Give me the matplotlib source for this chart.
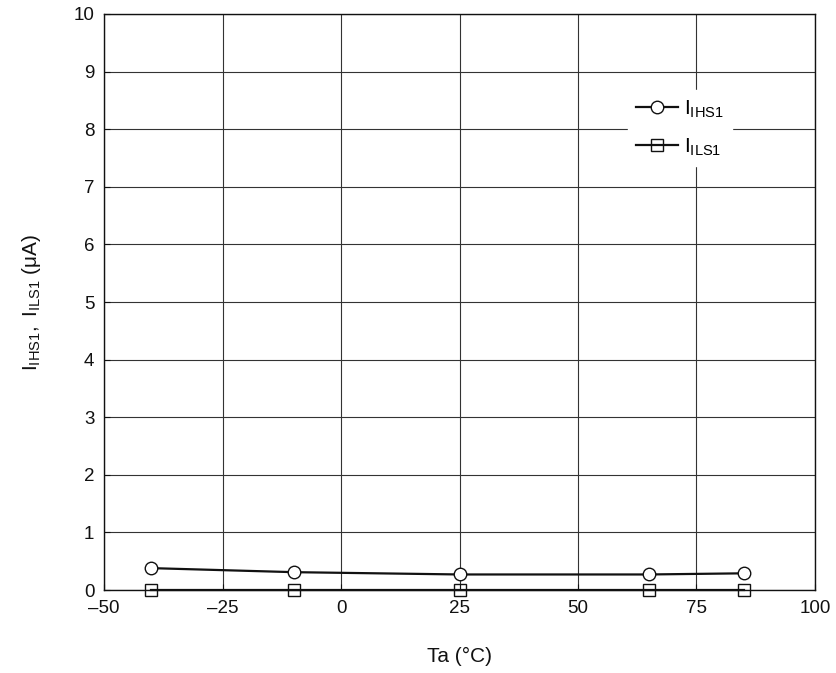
import matplotlib
matplotlib.use("Agg")
import matplotlib.pyplot as plt

plt.rcParams['font.family'] = ['Liberation Sans', 'DejaVu Sans']
plt.rcParams['mathtext.fontset'] = 'custom'
plt.rcParams['mathtext.rm'] = 'Liberation Sans'
plt.rcParams['mathtext.it'] = 'Liberation Sans'

temps = [-40, -10, 25, 65, 85]
i_ihs1 = [0.38, 0.31, 0.27, 0.27, 0.29]
i_ils1 = [0.0, 0.0, 0.0, 0.0, 0.0]
x_ticks = [-50, -25, 0, 25, 50, 75, 100]
x_tick_labels = ['–50', '–25', '0', '25', '50', '75', '100']
y_ticks = [0, 1, 2, 3, 4, 5, 6, 7, 8, 9, 10]

fig = plt.figure(figsize=(8.37, 6.73), dpi=100)
ax = fig.add_axes([0.1243, 0.1233, 0.8494, 0.8559])

ax.plot(temps, i_ihs1, color='#111111', lw=1.6, marker='o', ms=9.0,
        mfc='white', mec='#111111', mew=1.0, label=r'$\mathregular{I_{IHS1}}$', zorder=3)
ax.plot(temps, i_ils1, color='#111111', lw=1.6, marker='s', ms=8.5,
        mfc='none', mec='#111111', mew=1.0, label=r'$\mathregular{I_{ILS1}}$', zorder=3,
        clip_on=False)

ax.set_xlim(-50, 100)
ax.set_ylim(0, 10)
ax.set_xticks(x_ticks)
ax.set_xticklabels(x_tick_labels)
ax.set_yticks(y_ticks)
ax.tick_params(direction='in', length=4, width=0.8, labelsize=13.5, pad=7, colors='#111111')
ax.grid(True, color='#333333', lw=0.8)
for s in ax.spines.values():
    s.set_color('#111111')
    s.set_linewidth(1.0)

ax.set_xlabel('Ta (°C)', fontsize=15, labelpad=22, color='#111111')
ax.set_ylabel(r'$\mathregular{I_{IHS1},\ I_{ILS1}}$ (μA)', fontsize=15, labelpad=22, color='#111111')

leg = ax.legend(loc='upper left', bbox_to_anchor=(0.737, 0.868), frameon=True,
                fancybox=False, edgecolor='white', facecolor='white', framealpha=1,
                fontsize=15, handlelength=2.0, handletextpad=0.3, labelspacing=0.8,
                borderpad=0.4, borderaxespad=0)
leg.set_zorder(5)

fig.savefig('out.png', dpi=100)
